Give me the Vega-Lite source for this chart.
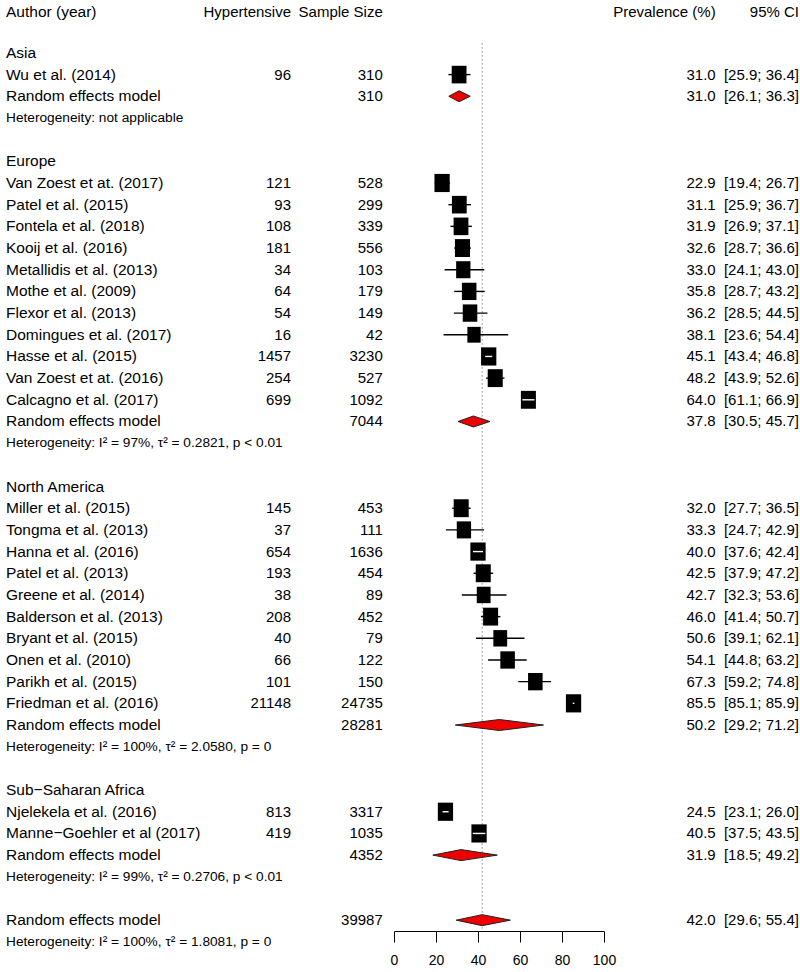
{
  "$schema": "https://vega.github.io/schema/vega-lite/v6.json",
  "padding": {"left": 6, "top": 0, "right": 0, "bottom": 0},
  "autosize": {"type": "pad"},
  "background": "white",
  "spacing": 0,
  "bounds": "flush",
  "config": {
    "view": {"stroke": null},
    "text": {"font": "Liberation Sans", "fontSize": 15, "color": "#000"},
    "axis": {"labelFont": "Liberation Sans"}
  },
  "datasets": {
    "rows": [
      {"row": 0, "type": "group", "label": "Asia"},
      {"row": 1, "type": "study", "label": "Wu et al. (2014)", "hyp": 96, "n": 310, "est": 31.0, "lo": 25.9, "hi": 36.4, "ci": "[25.9; 36.4]", "w": 4.2},
      {"row": 2, "type": "pooled", "label": "Random effects model", "n": 310, "est": 31.0, "lo": 26.1, "hi": 36.3, "ci": "[26.1; 36.3]"},
      {"row": 3, "type": "het", "label": "Heterogeneity: not applicable"},
      {"row": 5, "type": "group", "label": "Europe"},
      {"row": 6, "type": "study", "label": "Van Zoest et at. (2017)", "hyp": 121, "n": 528, "est": 22.9, "lo": 19.4, "hi": 26.7, "ci": "[19.4; 26.7]", "w": 4.4},
      {"row": 7, "type": "study", "label": "Patel et al. (2015)", "hyp": 93, "n": 299, "est": 31.1, "lo": 25.9, "hi": 36.7, "ci": "[25.9; 36.7]", "w": 4.2},
      {"row": 8, "type": "study", "label": "Fontela et al. (2018)", "hyp": 108, "n": 339, "est": 31.9, "lo": 26.9, "hi": 37.1, "ci": "[26.9; 37.1]", "w": 4.2},
      {"row": 9, "type": "study", "label": "Kooij et al. (2016)", "hyp": 181, "n": 556, "est": 32.6, "lo": 28.7, "hi": 36.6, "ci": "[28.7; 36.6]", "w": 4.3},
      {"row": 10, "type": "study", "label": "Metallidis et al. (2013)", "hyp": 34, "n": 103, "est": 33.0, "lo": 24.1, "hi": 43.0, "ci": "[24.1; 43.0]", "w": 4.0},
      {"row": 11, "type": "study", "label": "Mothe et al. (2009)", "hyp": 64, "n": 179, "est": 35.8, "lo": 28.7, "hi": 43.2, "ci": "[28.7; 43.2]", "w": 4.1},
      {"row": 12, "type": "study", "label": "Flexor et al. (2013)", "hyp": 54, "n": 149, "est": 36.2, "lo": 28.5, "hi": 44.5, "ci": "[28.5; 44.5]", "w": 4.1},
      {"row": 13, "type": "study", "label": "Domingues et al. (2017)", "hyp": 16, "n": 42, "est": 38.1, "lo": 23.6, "hi": 54.4, "ci": "[23.6; 54.4]", "w": 3.6},
      {"row": 14, "type": "study", "label": "Hasse et al. (2015)", "hyp": 1457, "n": 3230, "est": 45.1, "lo": 43.4, "hi": 46.8, "ci": "[43.4; 46.8]", "w": 4.4},
      {"row": 15, "type": "study", "label": "Van Zoest et at. (2016)", "hyp": 254, "n": 527, "est": 48.2, "lo": 43.9, "hi": 52.6, "ci": "[43.9; 52.6]", "w": 4.3},
      {"row": 16, "type": "study", "label": "Calcagno et al. (2017)", "hyp": 699, "n": 1092, "est": 64.0, "lo": 61.1, "hi": 66.9, "ci": "[61.1; 66.9]", "w": 4.3},
      {"row": 17, "type": "pooled", "label": "Random effects model", "n": 7044, "est": 37.8, "lo": 30.5, "hi": 45.7, "ci": "[30.5; 45.7]"},
      {"row": 18, "type": "het", "label": "Heterogeneity: I² = 97%, τ² = 0.2821, p < 0.01"},
      {"row": 20, "type": "group", "label": "North America"},
      {"row": 21, "type": "study", "label": "Miller et al. (2015)", "hyp": 145, "n": 453, "est": 32.0, "lo": 27.7, "hi": 36.5, "ci": "[27.7; 36.5]", "w": 4.3},
      {"row": 22, "type": "study", "label": "Tongma et al. (2013)", "hyp": 37, "n": 111, "est": 33.3, "lo": 24.7, "hi": 42.9, "ci": "[24.7; 42.9]", "w": 4.0},
      {"row": 23, "type": "study", "label": "Hanna et al. (2016)", "hyp": 654, "n": 1636, "est": 40.0, "lo": 37.6, "hi": 42.4, "ci": "[37.6; 42.4]", "w": 4.4},
      {"row": 24, "type": "study", "label": "Patel et al. (2013)", "hyp": 193, "n": 454, "est": 42.5, "lo": 37.9, "hi": 47.2, "ci": "[37.9; 47.2]", "w": 4.3},
      {"row": 25, "type": "study", "label": "Greene et al. (2014)", "hyp": 38, "n": 89, "est": 42.7, "lo": 32.3, "hi": 53.6, "ci": "[32.3; 53.6]", "w": 3.8},
      {"row": 26, "type": "study", "label": "Balderson et al. (2013)", "hyp": 208, "n": 452, "est": 46.0, "lo": 41.4, "hi": 50.7, "ci": "[41.4; 50.7]", "w": 4.3},
      {"row": 27, "type": "study", "label": "Bryant et al. (2015)", "hyp": 40, "n": 79, "est": 50.6, "lo": 39.1, "hi": 62.1, "ci": "[39.1; 62.1]", "w": 3.8},
      {"row": 28, "type": "study", "label": "Onen et al. (2010)", "hyp": 66, "n": 122, "est": 54.1, "lo": 44.8, "hi": 63.2, "ci": "[44.8; 63.2]", "w": 4.1},
      {"row": 29, "type": "study", "label": "Parikh et al. (2015)", "hyp": 101, "n": 150, "est": 67.3, "lo": 59.2, "hi": 74.8, "ci": "[59.2; 74.8]", "w": 4.1},
      {"row": 30, "type": "study", "label": "Friedman et al. (2016)", "hyp": 21148, "n": 24735, "est": 85.5, "lo": 85.1, "hi": 85.9, "ci": "[85.1; 85.9]", "w": 4.4},
      {"row": 31, "type": "pooled", "label": "Random effects model", "n": 28281, "est": 50.2, "lo": 29.2, "hi": 71.2, "ci": "[29.2; 71.2]"},
      {"row": 32, "type": "het", "label": "Heterogeneity: I² = 100%, τ² = 2.0580, p = 0"},
      {"row": 34, "type": "group", "label": "Sub−Saharan Africa"},
      {"row": 35, "type": "study", "label": "Njelekela et al. (2016)", "hyp": 813, "n": 3317, "est": 24.5, "lo": 23.1, "hi": 26.0, "ci": "[23.1; 26.0]", "w": 4.4},
      {"row": 36, "type": "study", "label": "Manne−Goehler et al (2017)", "hyp": 419, "n": 1035, "est": 40.5, "lo": 37.5, "hi": 43.5, "ci": "[37.5; 43.5]", "w": 4.4},
      {"row": 37, "type": "pooled", "label": "Random effects model", "n": 4352, "est": 31.9, "lo": 18.5, "hi": 49.2, "ci": "[18.5; 49.2]"},
      {"row": 38, "type": "het", "label": "Heterogeneity: I² = 99%, τ² = 0.2706, p < 0.01"},
      {"row": 40, "type": "pooled", "overall": true, "label": "Random effects model", "n": 39987, "est": 42.0, "lo": 29.6, "hi": 55.4, "ci": "[29.6; 55.4]"},
      {"row": 41, "type": "het", "label": "Heterogeneity: I² = 100%, τ² = 1.8081, p = 0"}
    ]
  },
  "hconcat": [
    {
      "width": 199, "height": 931,
      "layer": [
        {
          "data": {"values": [{"t": "Author (year)"}]},
          "mark": {"type": "text", "align": "left", "fontSize": 15.5},
          "encoding": {
            "text": {"field": "t"},
            "x": {"value": 0},
            "y": {"datum": -1.9, "type": "quantitative", "scale": {"domain": [-2.44, 40.5], "nice": false, "zero": false, "reverse": true}, "axis": null}
          }
        },
        {
          "data": {"name": "rows"},
          "transform": [{"filter": "datum.type !== 'het'"}],
          "mark": {"type": "text", "align": "left", "fontSize": 15.5},
          "encoding": {
            "text": {"field": "label"},
            "x": {"value": 0},
            "y": {"field": "row", "type": "quantitative", "scale": {"domain": [-2.44, 40.5], "nice": false, "zero": false, "reverse": true}, "axis": null}
          }
        },
        {
          "data": {"name": "rows"},
          "transform": [{"filter": "datum.type === 'het'"}],
          "mark": {"type": "text", "align": "left", "fontSize": 13.7},
          "encoding": {
            "text": {"field": "label"},
            "x": {"value": 0},
            "y": {"field": "row", "type": "quantitative", "scale": {"domain": [-2.44, 40.5], "nice": false, "zero": false, "reverse": true}, "axis": null}
          }
        }
      ]
    },
    {
      "width": 86, "height": 931,
      "layer": [
        {
          "data": {"values": [{"t": "Hypertensive"}]},
          "mark": {"type": "text", "align": "right"},
          "encoding": {
            "text": {"field": "t"},
            "x": {"value": "width"},
            "y": {"datum": -1.9, "type": "quantitative", "scale": {"domain": [-2.44, 40.5], "nice": false, "zero": false, "reverse": true}, "axis": null}
          }
        },
        {
          "data": {"name": "rows"},
          "transform": [{"filter": "datum.type === 'study'"}],
          "mark": {"type": "text", "align": "right"},
          "encoding": {
            "text": {"field": "hyp", "type": "quantitative", "format": "d"},
            "x": {"value": "width"},
            "y": {"field": "row", "type": "quantitative", "scale": {"domain": [-2.44, 40.5], "nice": false, "zero": false, "reverse": true}, "axis": null}
          }
        }
      ]
    },
    {
      "width": 102.3, "height": 931,
      "layer": [
        {
          "data": {"values": [{"t": "Sample Size"}]},
          "mark": {"type": "text", "align": "right", "dx": -10.5},
          "encoding": {
            "text": {"field": "t"},
            "x": {"value": "width"},
            "y": {"datum": -1.9, "type": "quantitative", "scale": {"domain": [-2.44, 40.5], "nice": false, "zero": false, "reverse": true}, "axis": null}
          }
        },
        {
          "data": {"name": "rows"},
          "transform": [{"filter": "datum.type === 'study' || datum.type === 'pooled'"}],
          "mark": {"type": "text", "align": "right", "dx": -10.5},
          "encoding": {
            "text": {"field": "n", "type": "quantitative", "format": "d"},
            "x": {"value": "width"},
            "y": {"field": "row", "type": "quantitative", "scale": {"domain": [-2.44, 40.5], "nice": false, "zero": false, "reverse": true}, "axis": null}
          }
        }
      ]
    },
    {
      "width": 210, "height": 931,
      "data": {"name": "rows"},
      "layer": [
        {
          "transform": [{"filter": "datum.overall === true"}],
          "mark": {"type": "rule", "color": "#888", "strokeDash": [1.5, 2.5], "strokeWidth": 1},
          "encoding": {
            "x": {"field": "est", "type": "quantitative", "scale": {"domain": [0, 100], "nice": false, "zero": false},
                  "axis": {"values": [0, 20, 40, 60, 80, 100], "title": null, "grid": false, "tickSize": 11, "labelFontSize": 14, "labelPadding": 11, "domainColor": "#000", "tickColor": "#000", "labelColor": "#000", "labelFlush": false, "domainWidth": 1, "tickWidth": 1}},
            "y": {"datum": -0.45, "type": "quantitative", "scale": {"domain": [-2.44, 40.5], "nice": false, "zero": false, "reverse": true}, "axis": null},
            "y2": {"datum": 40.4}
          }
        },
        {
          "transform": [{"filter": "datum.type === 'study'"}],
          "mark": {"type": "rule", "color": "#000", "strokeWidth": 1.4},
          "encoding": {
            "x": {"field": "lo", "type": "quantitative", "scale": {"domain": [0, 100], "nice": false, "zero": false}},
            "x2": {"field": "hi"},
            "y": {"field": "row", "type": "quantitative", "scale": {"domain": [-2.44, 40.5], "nice": false, "zero": false, "reverse": true}, "axis": null}
          }
        },
        {
          "transform": [{"filter": "datum.type === 'study'"}],
          "mark": {"type": "point", "filled": true, "opacity": 1, "color": "#000", "shape": "M-0.84,-1H0.84V1H-0.84Z"},
          "encoding": {
            "x": {"field": "est", "type": "quantitative", "scale": {"domain": [0, 100], "nice": false, "zero": false}},
            "y": {"field": "row", "type": "quantitative", "scale": {"domain": [-2.44, 40.5], "nice": false, "zero": false, "reverse": true}, "axis": null},
            "size": {"field": "w", "type": "quantitative", "scale": {"domain": [3.5, 4.5], "range": [240, 340]}, "legend": null}
          }
        },
        {
          "transform": [{"filter": "datum.type === 'study' && datum.hi - datum.lo < 7"}],
          "mark": {"type": "rule", "color": "#fff", "strokeWidth": 1.4},
          "encoding": {
            "x": {"field": "lo", "type": "quantitative", "scale": {"domain": [0, 100], "nice": false, "zero": false}},
            "x2": {"field": "hi"},
            "y": {"field": "row", "type": "quantitative", "scale": {"domain": [-2.44, 40.5], "nice": false, "zero": false, "reverse": true}, "axis": null}
          }
        },
        {
          "transform": [
            {"filter": "datum.type === 'pooled'"},
            {"fold": ["lo", "est", "hi"], "as": ["key", "value"]}
          ],
          "mark": {"type": "area", "orient": "vertical", "fill": "#ee0000", "stroke": "#222", "strokeWidth": 1, "opacity": 1,
                   "yOffset": {"expr": "datum.key === 'est' ? -5.5 : 0"},
                   "y2Offset": {"expr": "datum.key === 'est' ? 5.5 : 0"}},
          "encoding": {
            "x": {"field": "value", "type": "quantitative", "scale": {"domain": [0, 100], "nice": false, "zero": false}},
            "y": {"field": "row", "type": "quantitative", "scale": {"domain": [-2.44, 40.5], "nice": false, "zero": false, "reverse": true}, "axis": null},
            "y2": {"field": "row"},
            "detail": {"field": "row", "type": "quantitative"}
          }
        }
      ]
    },
    {
      "width": 111.7, "height": 931,
      "layer": [
        {
          "data": {"values": [{"t": "Prevalence (%)"}]},
          "mark": {"type": "text", "align": "right"},
          "encoding": {
            "text": {"field": "t"},
            "x": {"value": "width"},
            "y": {"datum": -1.9, "type": "quantitative", "scale": {"domain": [-2.44, 40.5], "nice": false, "zero": false, "reverse": true}, "axis": null}
          }
        },
        {
          "data": {"name": "rows"},
          "transform": [{"filter": "datum.type === 'study' || datum.type === 'pooled'"}],
          "mark": {"type": "text", "align": "right"},
          "encoding": {
            "text": {"field": "est", "type": "quantitative", "format": ".1f"},
            "x": {"value": "width"},
            "y": {"field": "row", "type": "quantitative", "scale": {"domain": [-2.44, 40.5], "nice": false, "zero": false, "reverse": true}, "axis": null}
          }
        }
      ]
    },
    {
      "width": 83, "height": 931,
      "layer": [
        {
          "data": {"values": [{"t": "95% CI"}]},
          "mark": {"type": "text", "align": "right"},
          "encoding": {
            "text": {"field": "t"},
            "x": {"value": "width"},
            "y": {"datum": -1.9, "type": "quantitative", "scale": {"domain": [-2.44, 40.5], "nice": false, "zero": false, "reverse": true}, "axis": null}
          }
        },
        {
          "data": {"name": "rows"},
          "transform": [{"filter": "datum.type === 'study' || datum.type === 'pooled'"}],
          "mark": {"type": "text", "align": "right"},
          "encoding": {
            "text": {"field": "ci"},
            "x": {"value": "width"},
            "y": {"field": "row", "type": "quantitative", "scale": {"domain": [-2.44, 40.5], "nice": false, "zero": false, "reverse": true}, "axis": null}
          }
        }
      ]
    }
  ]
}
